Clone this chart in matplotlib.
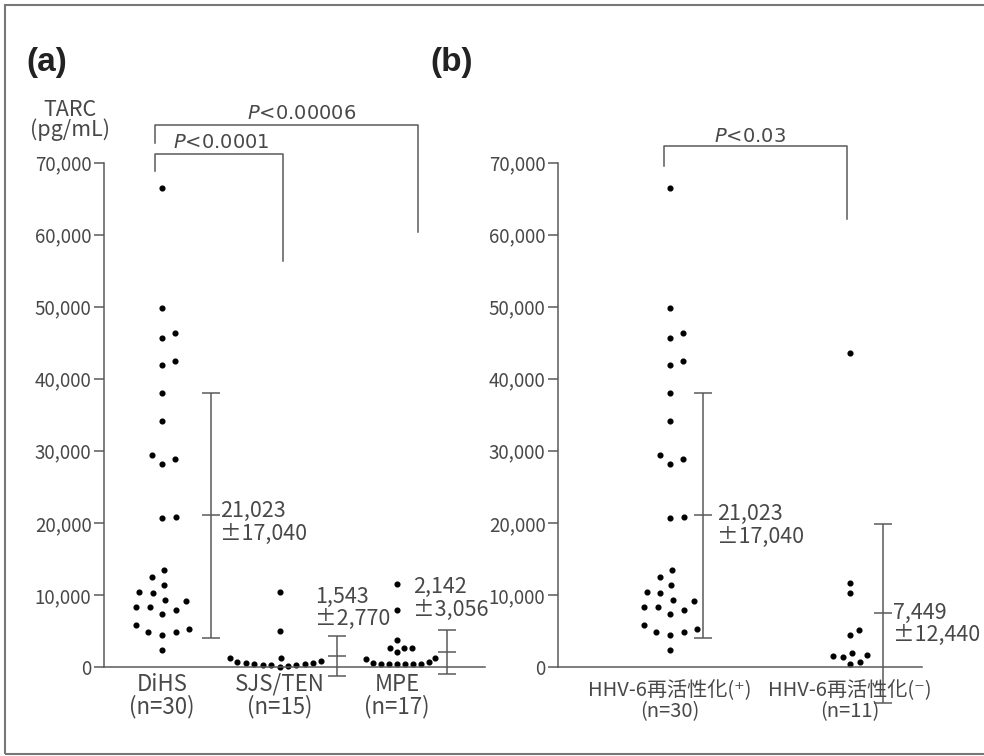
import numpy as np
import matplotlib
matplotlib.use('Agg')
import matplotlib.pyplot as plt
from matplotlib.patches import Rectangle
from matplotlib.ticker import FuncFormatter

plt.rcParams['font.family'] = ['Noto Sans CJK JP', 'DejaVu Sans']

# TARC (pg/mL) per patient
dihs = [66500, 49800, 46300, 45700, 42500, 41900, 38000, 34100, 29400, 28900,
        28100, 20800, 20700, 13400, 12500, 11400, 10400, 10200, 9300, 9200,
        8300, 8300, 7900, 7400, 5800, 5300, 4900, 4900, 4500, 2300]
sjs_ten = [10400, 5000, 1200, 1200, 870, 690, 550, 500, 370, 370, 320, 320, 280, 100, 50]
mpe = [11500, 7900, 3800, 2700, 2600, 2600, 2100, 1300, 1100, 700, 600,
       400, 400, 400, 400, 400, 400]
hhv_pos = dihs
hhv_neg = [43500, 11600, 10200, 5200, 4500, 1900, 1700, 1500, 1400, 700, 400]

groups_a = ['DiHS\n(n=30)', 'SJS/TEN\n(n=15)', 'MPE\n(n=17)']
means_a = [21023, 1543, 2142]
sds_a = [17040, 2770, 3056]
groups_b = ['HHV-6再活性化(⁺)\n(n=30)', 'HHV-6再活性化(⁻)\n(n=11)']
means_b = [21023, 7449]
sds_b = [17040, 12440]
p_a = ['$P$<0.0001', '$P$<0.00006']
p_b = '$P$<0.03'

TXT = '#484848'
LN = '#5a5a5a'
W, H = 984, 756


def swarm(values, px_x, px_y, r=10.0):
    # simple beeswarm in pixel space
    vals = np.asarray(values, float)
    offs = np.zeros(len(vals))
    placed = []
    for i in np.argsort(vals):
        y = vals[i] * px_y
        cands = [0.0]
        for (qx, qy) in placed:
            dy = y - qy
            if abs(dy) < r:
                dx = np.sqrt(r * r - dy * dy)
                cands += [qx + dx, qx - dx]
        cands.sort(key=abs)
        for c in cands:
            if all((c - qx) ** 2 + (y - qy) ** 2 >= r * r - 1e-6 for qx, qy in placed):
                break
        placed.append((c, y))
        offs[i] = c / px_x
    return offs


def setup(ax, x0, x1):
    ax.set_xlim(x0, x1)
    ax.set_ylim(-7354, 78674)
    for s in ['top', 'right']:
        ax.spines[s].set_visible(False)
    ax.spines['bottom'].set_position(('data', 0))
    ax.spines['left'].set_bounds(0, 70000)
    for s in ['bottom', 'left']:
        ax.spines[s].set_color(LN)
        ax.spines[s].set_linewidth(1.1)
    ax.set_xticks([])
    ax.set_yticks(np.arange(0, 70001, 10000))
    ax.yaxis.set_major_formatter(FuncFormatter(lambda v, p: f'{int(v):,}'))
    ax.tick_params(axis='y', length=7, width=1.1, color=LN, pad=2,
                   labelsize=13.5, labelcolor=TXT)


def bracket(ax, x0, x1, top, b0, b1):
    ax.plot([x0, x0, x1, x1], [b0, top, top, b1], color=LN, lw=1.1, clip_on=False)


def stat_text(ax, x, y, m, s):
    ax.text(x, y, f'{m:,}\n±{s:,}', ha='left', va='center', fontsize=15.5,
            color=TXT, linespacing=1.02)


def p_text(ax, x, y, s, ha='left'):
    ax.text(x, y, s, ha=ha, va='center', fontsize=14, color=TXT,
            family='DejaVu Sans', clip_on=False)


fig = plt.figure(figsize=(W / 100, H / 100), dpi=100)
py = 7.207 / 1000

# (a)
ax1 = fig.add_axes([104 / W, 36 / H, 381 / W, 620 / H])
setup(ax1, -0.494, 2.749)
radii_a = [14, 8.5, 8]
for i, vals in enumerate([dihs, sjs_ten, mpe]):
    xs = i + swarm(vals, 117.5, py, radii_a[i])
    ax1.plot(xs, vals, 'o', ms=3.4, color='black', clip_on=False)
    ax1.text(i, -3950, groups_a[i], ha='center', va='center', fontsize=16,
             color=TXT, linespacing=0.95)
bar_dx_a = [0.417, 0.485, 0.426]
for i in range(3):
    ax1.errorbar(i + bar_dx_a[i], means_a[i], yerr=sds_a[i], fmt='_', ms=13.5,
                 mew=1.1, capsize=6.8, capthick=1.1, elinewidth=1.1, color=LN,
                 clip_on=False)
stat_text(ax1, 0.494, 20040, means_a[0], sds_a[0])
stat_text(ax1, 1.306, 8180, means_a[1], sds_a[1])
stat_text(ax1, 2.136, 9500, means_a[2], sds_a[2])
bracket(ax1, -0.06, 1.026, 71250, 68790, 56320)
bracket(ax1, -0.06, 2.18, 75270, 72730, 60340)
p_text(ax1, 0.094, 72770, p_a[0])
p_text(ax1, 0.723, 76790, p_a[1])

# (b)
ax2 = fig.add_axes([558 / W, 36 / H, 364 / W, 620 / H])
setup(ax2, -0.622, 1.4)
radii_b = [14, 10]
for i, vals in enumerate([hhv_pos, hhv_neg]):
    xs = i + swarm(vals, 180.0, py, radii_b[i])
    ax2.plot(xs, vals, 'o', ms=3.4, color='black', clip_on=False)
    ax2.text(i, -4720, groups_b[i], ha='center', va='center', fontsize=14.5,
             color=TXT, linespacing=1.0)
for i in range(2):
    ax2.errorbar(i + 0.185, means_b[i], yerr=sds_b[i], fmt='_', ms=13.5,
                 mew=1.1, capsize=6.8, capthick=1.1, elinewidth=1.1, color=LN,
                 clip_on=False)
stat_text(ax2, 0.261, 19625, means_b[0], sds_b[0])
stat_text(ax2, 1.239, 5950, means_b[1], sds_b[1])
bracket(ax2, -0.033, 0.983, 72320, 69540, 62220)
p_text(ax2, 0.444, 73570, p_b, ha='center')

# labels and frame
fig.text(47 / W, 1 - 62 / H, '(a)', ha='center', va='center', fontsize=24,
         fontweight='bold', family='Liberation Sans', color='#222222')
fig.text(452 / W, 1 - 62 / H, '(b)', ha='center', va='center', fontsize=24,
         fontweight='bold', family='Liberation Sans', color='#222222')
fig.text(70 / W, 1 - 120 / H, 'TARC\n(pg/mL)', ha='center', va='center',
         fontsize=15.5, color=TXT, linespacing=0.9)
fig.patches.append(Rectangle((5 / W, 2 / H), 1.2, 749 / H, transform=fig.transFigure,
                             fill=False, edgecolor='#777777', lw=1.5))

fig.savefig('out.png', dpi=100)
